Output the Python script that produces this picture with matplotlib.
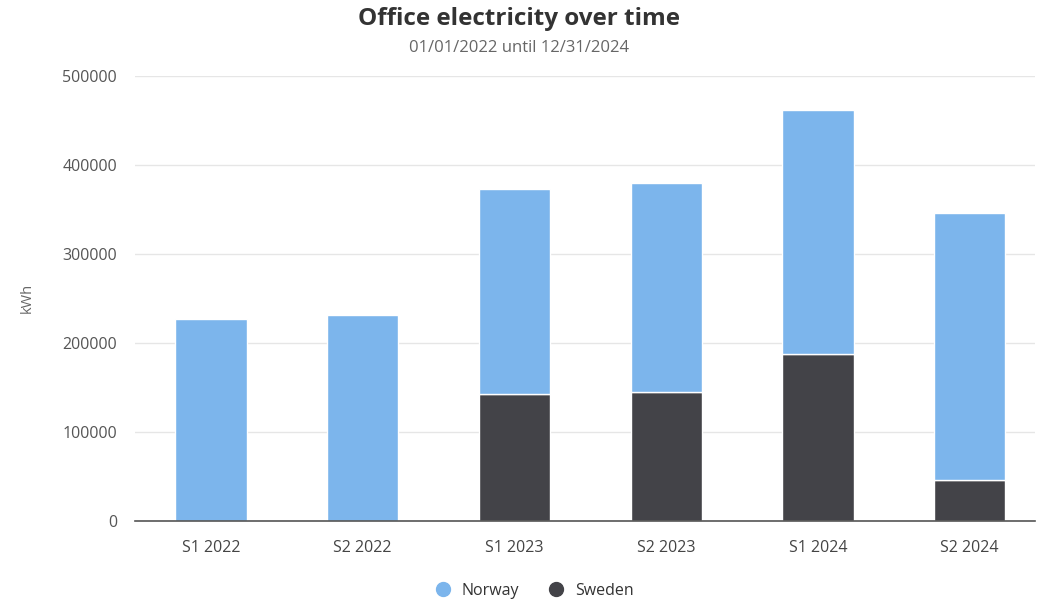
import matplotlib
matplotlib.use("Agg")
import matplotlib.pyplot as plt
from matplotlib.lines import Line2D

categories = ["S1 2022", "S2 2022", "S1 2023", "S2 2023", "S1 2024", "S2 2024"]
sweden = [0, 0, 142400, 144600, 187300, 45700]
norway = [226300, 230800, 230000, 235200, 274200, 299700]
yticks = [0, 100000, 200000, 300000, 400000, 500000]

plt.rcParams['font.family'] = ['Open Sans', 'DejaVu Sans']

fig = plt.figure(figsize=(10.38, 6.04), dpi=100)
ax = fig.add_axes([135/1038, 1 - 520.7/604, 900/1038, 445/604])

x = range(len(categories))
ax.bar(x, sweden, width=0.47, color="#434348", edgecolor="white", linewidth=1, zorder=3)
ax.bar(x, norway, bottom=sweden, width=0.47, color="#7cb5ec", edgecolor="white", linewidth=1, zorder=3)

ax.set_ylim(0, 500000)
ax.set_xlim(-0.5, 5.43)
ax.set_yticks(yticks)
ax.set_yticklabels([str(v) for v in yticks])
ax.set_xticks(list(x))
ax.set_xticklabels(categories)
ax.grid(axis="y", color="#e6e6e6", linewidth=1, zorder=0)
for s in ["top", "right", "left"]:
    ax.spines[s].set_visible(False)
ax.spines["bottom"].set_color("#555555")
ax.spines["bottom"].set_linewidth(1.2)
ax.spines["bottom"].set_zorder(4)
ax.tick_params(axis="y", length=0, pad=13, labelsize=11.5, labelcolor="#555555")
ax.tick_params(axis="x", length=0, pad=14, labelsize=11.5, labelcolor="#444444")
ax.set_ylabel("kWh", color="#666666", fontsize=10.5, labelpad=20)

fig.text(0.5, 1 - 19/604, "Office electricity over time", ha="center", va="center",
         fontsize=17.5, fontweight="bold", color="#333333")
fig.text(0.5, 1 - 48/604, "01/01/2022 until 12/31/2024", ha="center", va="center",
         fontsize=12, color="#666666")

handles = [Line2D([], [], marker="o", linestyle="", markersize=10, color="#7cb5ec"),
           Line2D([], [], marker="o", linestyle="", markersize=10, color="#434348")]
fig.legend(handles, ["Norway", "Sweden"], loc="center", bbox_to_anchor=(0.511, 1 - 591/604),
           ncol=2, frameon=False, fontsize=11.5, handletextpad=0.2, columnspacing=1.3,
           labelcolor="#333333")

fig.savefig("out.png", dpi=100)
